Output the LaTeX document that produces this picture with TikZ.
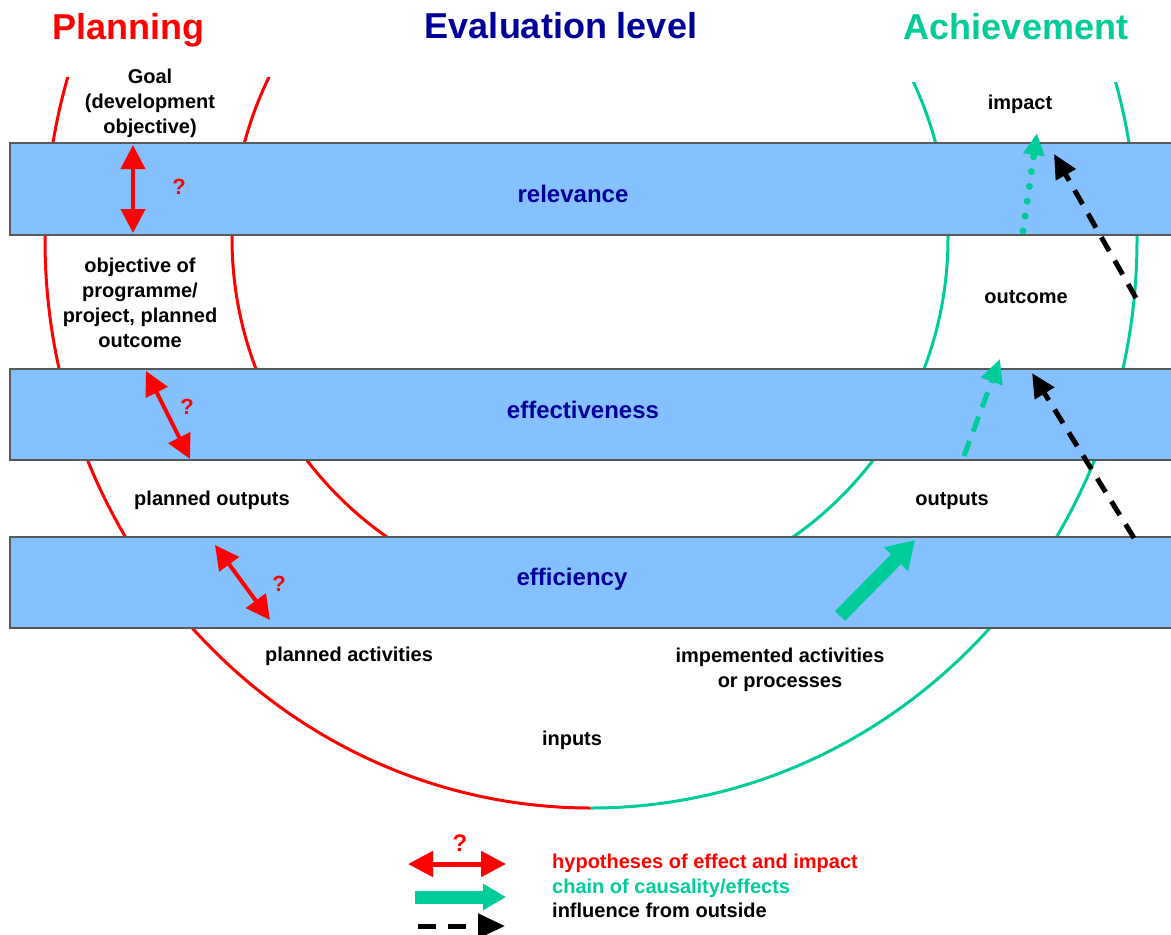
\documentclass[tikz,border=0pt]{standalone}
\usepackage{fontspec}
\setmainfont{Liberation Sans}
\usetikzlibrary{arrows.meta}
\definecolor{pred}{RGB}{255,0,0}
\definecolor{pgreen}{RGB}{0,204,153}
\definecolor{pnavy}{RGB}{0,0,153}
\definecolor{pband}{RGB}{133,193,255}
\begin{document}
\begin{tikzpicture}[x=1pt,y=-1pt,
  lbl/.style={font=\fontsize{20}{25}\selectfont\bfseries, align=center, inner sep=0pt, anchor=base},
  leg/.style={font=\fontsize{20}{25}\selectfont\bfseries, inner sep=0pt, anchor=base west},
  bandlbl/.style={font=\fontsize{24}{28}\selectfont\bfseries, text=pnavy, inner sep=0pt, anchor=base},
  ttl/.style={font=\fontsize{36}{40}\selectfont\bfseries, inner sep=0pt, anchor=base},
  qm/.style={font=\fontsize{22}{26}\selectfont\bfseries, text=pred, inner sep=0pt},
  band/.style={fill=pband, draw=black!65, line width=1.3pt},
  ring/.style={line width=3pt},
  hyp/.style={draw=pred, line width=4pt, {Triangle[length=24pt,width=24pt]}-{Triangle[length=24pt,width=24pt]}},
  chain/.style={draw=pgreen, line width=14pt, -{Triangle[length=27pt,width=32pt]}},
  chaindash/.style={draw=pgreen, line width=5pt, dash pattern=on 16pt off 10pt, -{Triangle[length=24pt,width=22pt]}},
  chaindot/.style={draw=pgreen, line width=7pt, line cap=round, dash pattern=on 0pt off 15pt, -{Triangle[length=22pt,width=20pt]}},
  outside/.style={draw=black, line width=5pt, dash pattern=on 16pt off 11pt, -{Triangle[length=24pt,width=22pt]}}
]
\useasboundingbox (0,0) rectangle (1171,935);
\fill[white] (0,0) rectangle (1171,935);

% rings
\begin{scope}
  \clip (0,77) rectangle (590.5,935);
  \draw[ring, pred] (591,240) ellipse [x radius=546pt, y radius=568pt];
  \draw[ring, pred] (590,238) ellipse [x radius=358pt, y radius=363pt];
\end{scope}
\begin{scope}
  \clip (590.5,82) rectangle (1171,935);
  \draw[ring, pgreen] (591,240) ellipse [x radius=546pt, y radius=568pt];
  \draw[ring, pgreen] (590,238) ellipse [x radius=358pt, y radius=363pt];
\end{scope}

% bands
\draw[band] (10,143) rectangle (1180,235);
\draw[band] (10,369) rectangle (1180,460);
\draw[band] (10,537) rectangle (1180,628);
\node[bandlbl] (relevance) at (573,202) {relevance};
\node[bandlbl] (effectiveness) at (583,418) {effectiveness};
\node[bandlbl] (efficiency) at (572,585) {efficiency};

% titles
\node[ttl, text=pred] (planning) at (128,39) {Planning};
\node[ttl, text=pnavy] (evaluation) at (561,38) {Evaluation level};
\node[ttl, text=pgreen] (achievement) at (1016,39) {Achievement};

% labels
\node[lbl] (goal) at (150,133) {Goal\\(development\\objective)};
\node[lbl] (impact) at (1020,109) {impact};
\node[lbl] (objective) at (140,347) {objective of\\programme/\\project, planned\\outcome};
\node[lbl] (outcome) at (1026,303) {outcome};
\node[lbl] (poutputs) at (212,505) {planned outputs};
\node[lbl] (outputs) at (952,505) {outputs};
\node[lbl] (pactivities) at (349,661) {planned activities};
\node[lbl] (iactivities) at (780,687) {impemented activities\\or processes};
\node[lbl] (inputs) at (572,745) {inputs};

% hypotheses arrows
\coordinate (h1a) at (133,145); \coordinate (h1b) at (133,233);
\coordinate (h2a) at (146,371); \coordinate (h2b) at (190,459);
\coordinate (h3a) at (215,545); \coordinate (h3b) at (270,620);
\draw[hyp] (h1a) -- (h1b);
\draw[hyp] (h2a) -- (h2b);
\draw[hyp] (h3a) -- (h3b);
\node[qm] (q1) at (179,187) {?};
\node[qm] (q2) at (187,407) {?};
\node[qm] (q3) at (279,584) {?};

% causality chain
\coordinate (c1a) at (840,616); \coordinate (c1b) at (915,540);
\coordinate (c2a) at (964,456); \coordinate (c2b) at (1000,359);
\coordinate (c3a) at (1023,231); \coordinate (c3b) at (1037,133);
\draw[chain] (c1a) -- (c1b);
\draw[chaindash] (c2a) -- (c2b);
\draw[chaindot] (c3a) -- (c3b);

% outside influence
\coordinate (o1a) at (1134,538); \coordinate (o1b) at (1032,373);
\coordinate (o2a) at (1136,298); \coordinate (o2b) at (1054,154);
\draw[outside] (o1a) -- (o1b);
\draw[outside] (o2a) -- (o2b);

% legend
\coordinate (l1a) at (408,864); \coordinate (l1b) at (506,864);
\coordinate (l2a) at (415,897); \coordinate (l2b) at (506,897);
\coordinate (l3a) at (418,926); \coordinate (l3b) at (505,926);
\draw[hyp, line width=5pt, {Triangle[length=25pt,width=25pt]}-{Triangle[length=25pt,width=25pt]}] (l1a) -- (l1b);
\node[qm, font=\fontsize{24}{28}\selectfont\bfseries] (lq) at (460,843) {?};
\draw[chain, line width=13pt, -{Triangle[length=23pt,width=25pt]}] (l2a) -- (l2b);
\draw[outside, dash pattern=on 18pt off 12pt, -{Triangle[length=27pt,width=24pt]}] (l3a) -- (l3b);
\node[leg, text=pred] (leg1) at (552,868) {hypotheses of effect and impact};
\node[leg, text=pgreen] (leg2) at (552,893) {chain of causality/effects};
\node[leg, text=black] (leg3) at (552,917) {influence from outside};
\end{tikzpicture}
\end{document}
